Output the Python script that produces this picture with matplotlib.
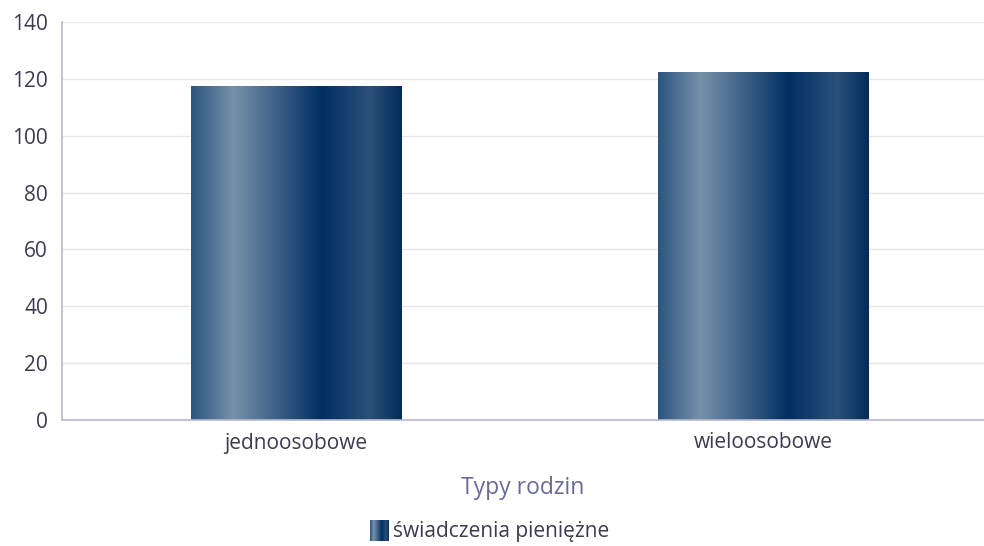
import numpy as np
import matplotlib.pyplot as plt
from matplotlib.colors import LinearSegmentedColormap

categories = ['jednoosobowe', 'wieloosobowe']
values = [117.5, 122.4]
series_name = 'świadczenia pieniężne'
x_title = 'Typy rodzin'
y_ticks = [0, 20, 40, 60, 80, 100, 120, 140]

plt.rcParams['font.family'] = ['Open Sans', 'DejaVu Sans']

# horizontal gradient used inside every bar
grad = LinearSegmentedColormap.from_list('bar_grad', [
    (0.0, '#2b5580'),
    (0.2, '#7791a9'),
    (0.62, '#002f63'),
    (0.85, '#2a5179'),
    (1.0, '#022c5a'),
])
grad_img = np.linspace(0, 1, 256).reshape(1, -1)

fig = plt.figure(figsize=(9.84, 5.46), dpi=100)
ax = fig.add_axes([62 / 984, 126 / 546, 922 / 984, 398 / 546])

x = np.arange(len(categories))
bars = ax.bar(x, values, width=0.45, color='none', edgecolor='none', zorder=2)
for b in bars:
    x0, y0 = b.get_x(), b.get_y()
    im = ax.imshow(grad_img, cmap=grad, aspect='auto', zorder=2,
                   extent=[x0, x0 + b.get_width(), y0, y0 + b.get_height()])
    im.set_clip_path(b)

ax.set_xlim(-0.5, 1.5 - 13 / 468)
ax.set_ylim(0, 140)
ax.set_yticks(y_ticks)
ax.set_xticks(x)
ax.set_xticklabels(categories)
ax.tick_params(axis='both', length=0, labelsize=15, colors='#3c3c50')
ax.tick_params(axis='y', pad=10)
ax.tick_params(axis='x', pad=9)
ax.yaxis.grid(True, color='#e6e6ee', linewidth=1, zorder=0)
ax.set_axisbelow(True)
for s in ['top', 'right']:
    ax.spines[s].set_visible(False)
for s in ['left', 'bottom']:
    ax.spines[s].set_color('#b8b8d0')
    ax.spines[s].set_linewidth(1.2)

ax.set_xlabel(x_title, fontsize=16.5, color='#6a6a98', labelpad=16)

# legend: gradient swatch plus label
lax = fig.add_axes([370 / 984, 5 / 546, 18 / 984, 21 / 546])
lax.imshow(grad_img, cmap=grad, aspect='auto')
lax.axis('off')
fig.text(393 / 984, 14 / 546, series_name, fontsize=15, color='#3c3c50',
         va='center', ha='left')

fig.savefig('out.png', dpi=100)
